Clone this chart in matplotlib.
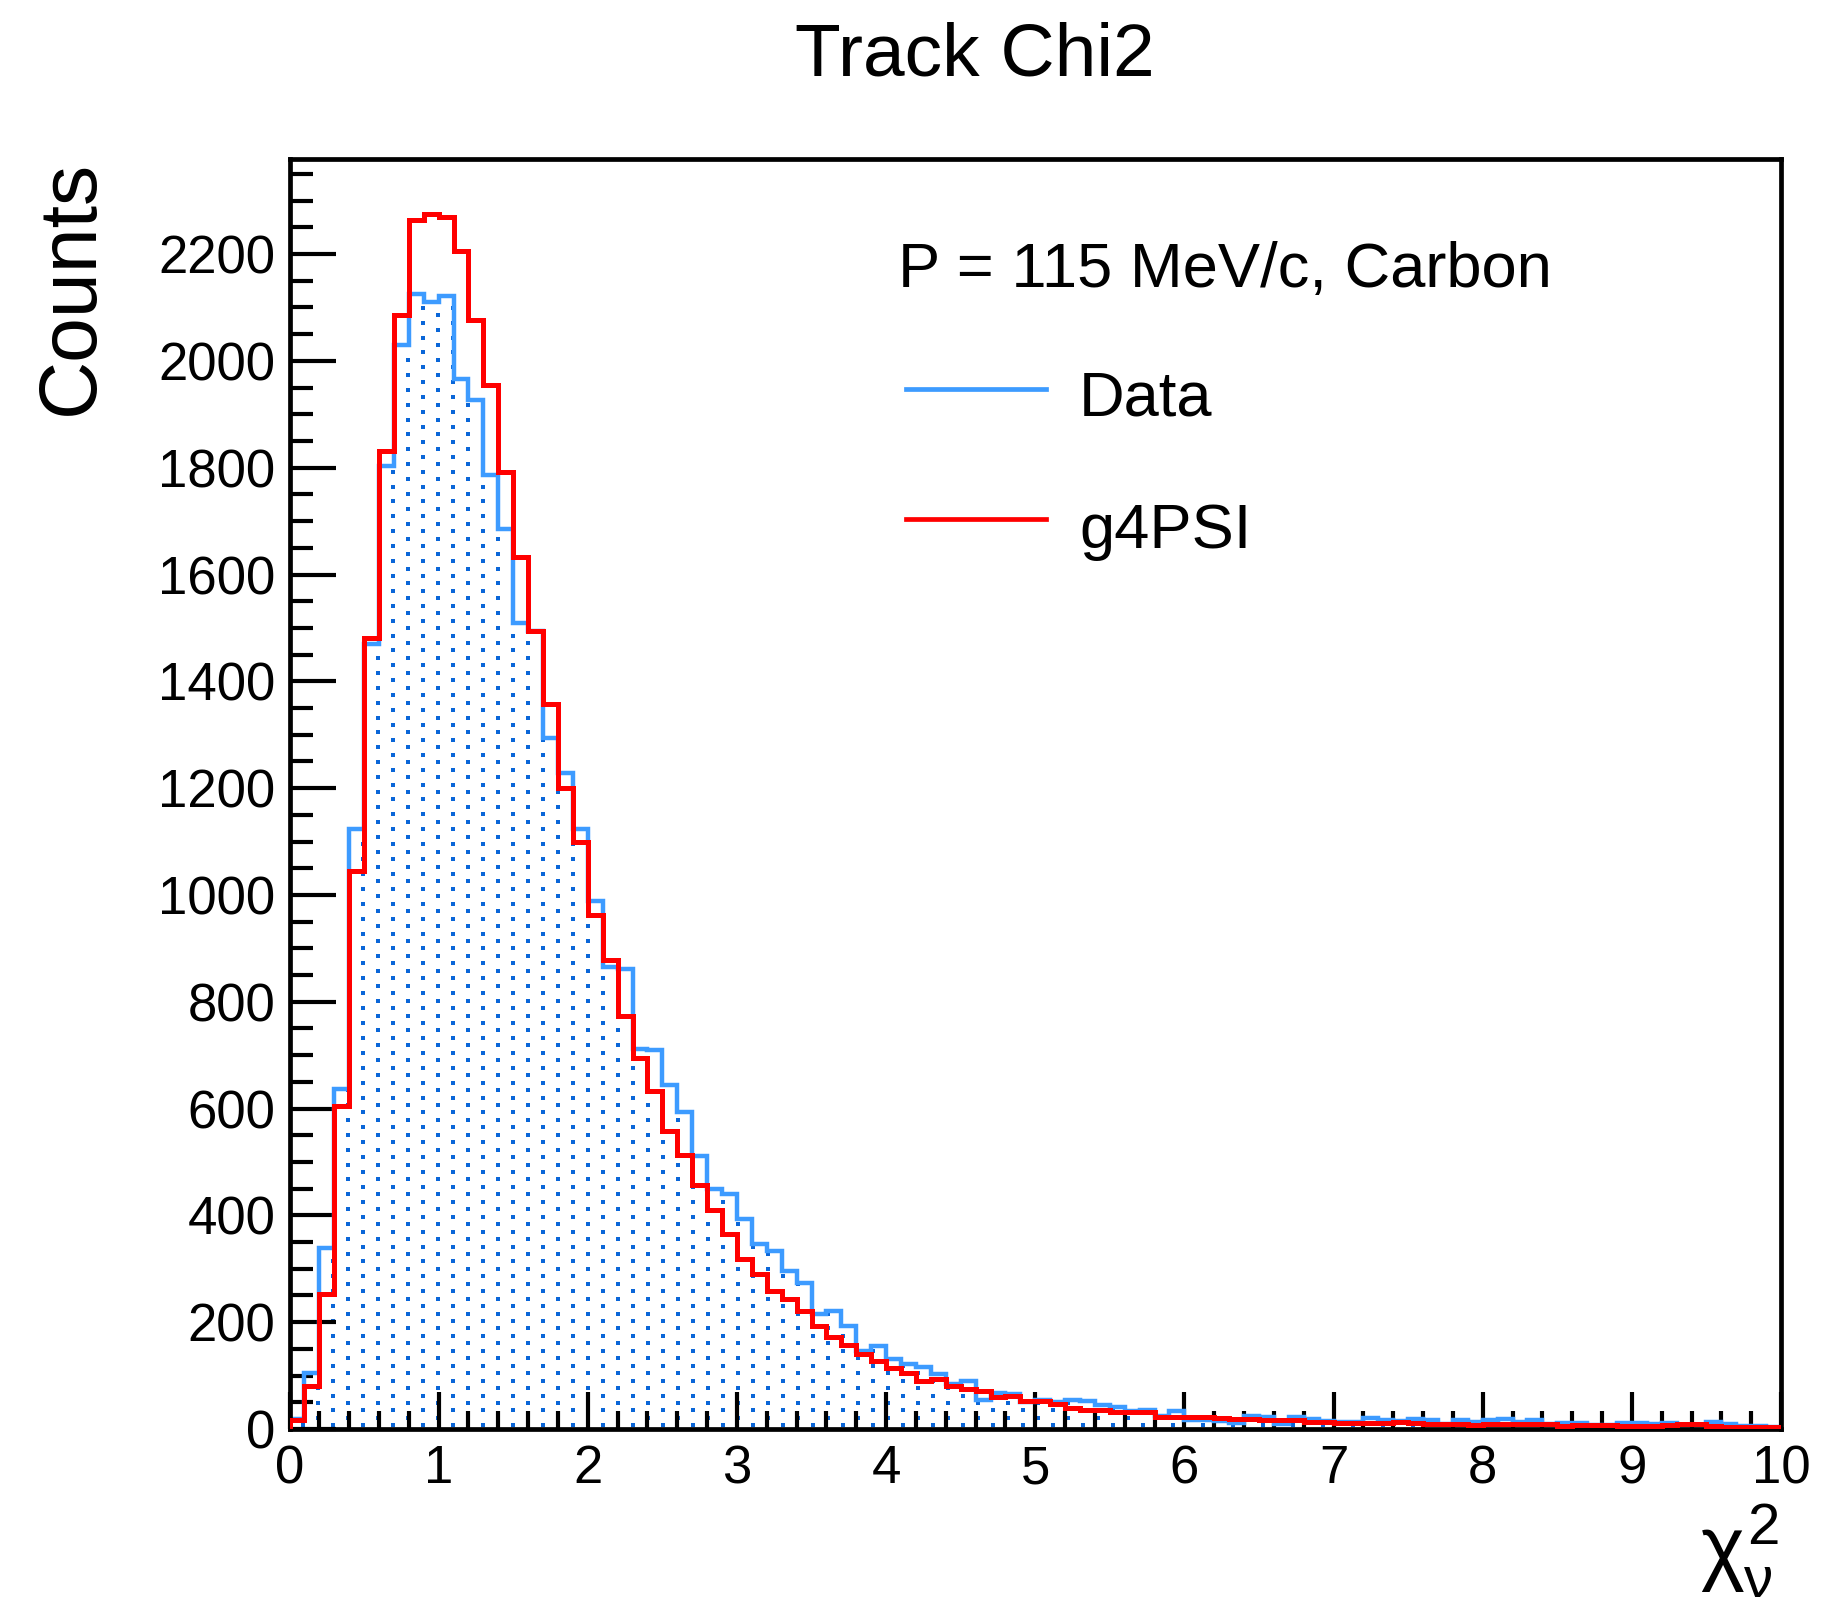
import numpy as np
import matplotlib
matplotlib.use("Agg")
import matplotlib.pyplot as plt
from matplotlib.lines import Line2D
from matplotlib.ticker import MultipleLocator

plt.rcParams["font.family"] = ["Liberation Sans", "DejaVu Sans"]
plt.rcParams["mathtext.fontset"] = "custom"
plt.rcParams["mathtext.rm"] = "Liberation Sans"
plt.rcParams["mathtext.it"] = "Liberation Sans"

# 100 bins of width 0.1 between 0 and 10
bin_edges = np.linspace(0.0, 10.0, 101)

data_counts = [
    18, 105, 338, 637, 1123, 1470, 1804, 2029, 2125, 2111,
    2122, 1966, 1926, 1787, 1686, 1510, 1495, 1294, 1229, 1124,
    988, 866, 862, 711, 710, 644, 594, 512, 450, 440,
    393, 346, 334, 296, 274, 215, 221, 193, 146, 156,
    131, 122, 117, 103, 84, 89, 55, 67, 66, 50,
    55, 51, 55, 52, 45, 42, 33, 36, 25, 34,
    16, 16, 15, 12, 25, 22, 10, 23, 19, 15,
    13, 14, 20, 16, 15, 19, 16, 10, 16, 14,
    16, 19, 13, 16, 10, 12, 12, 8, 7, 11,
    12, 9, 12, 8, 7, 14, 9, 5, 6, 4,
]

g4psi_counts = [
    17, 80, 253, 605, 1045, 1481, 1832, 2086, 2264, 2275,
    2270, 2206, 2077, 1954, 1791, 1633, 1495, 1358, 1200, 1099,
    963, 878, 773, 694, 633, 558, 513, 457, 410, 365,
    319, 290, 258, 244, 221, 193, 173, 158, 140, 128,
    114, 105, 89, 94, 80, 74, 71, 60, 62, 52,
    52, 47, 40, 36, 36, 32, 31, 31, 23, 22,
    23, 22, 20, 19, 19, 16, 16, 16, 14, 14,
    11, 11, 11, 11, 14, 11, 10, 9, 9, 8,
    9, 9, 10, 10, 9, 6, 8, 8, 8, 5,
    6, 5, 8, 9, 9, 6, 3, 3, 3, 3,
]

y_ticks = [0, 200, 400, 600, 800, 1000, 1200, 1400, 1600, 1800, 2000, 2200]
x_ticks = list(range(0, 11))

DATA_COLOR = "#3d9bff"
DOT_COLOR = "#0a66d8"
G4_COLOR = "#ff0000"

W, H = 1823, 1611
fig = plt.figure(figsize=(W / 100, H / 100), dpi=100)
ax = fig.add_axes([289.5 / W, 1 - 1429 / H, (1781 - 289.5) / W, (1429 - 159) / H])
ax.set_xlim(0, 10)
ax.set_ylim(0, 2378)

# invisible filled outline of the data histogram, used to clip the dot pattern
data_fill = ax.stairs(data_counts, bin_edges, baseline=0, fill=True,
                      facecolor="none", edgecolor="none")

# ROOT-like dotted fill pattern (staggered lattice in pixel space)
bb = ax.get_window_extent()
px, py = [], []
row = 0
yy = bb.y0 + 3.7
while yy < bb.y1:
    xx = bb.x0 + 13.8 + (row % 2) * 15
    while xx < bb.x1:
        px.append(xx)
        py.append(yy)
        xx += 30
    yy += 7.45
    row += 1
pts = ax.transData.inverted().transform(np.column_stack([px, py]))
dots = ax.scatter(pts[:, 0], pts[:, 1], s=5.0, marker="s", color=DOT_COLOR,
                  linewidths=0, zorder=1)
dots.set_clip_path(data_fill)

ax.stairs(data_counts, bin_edges, baseline=0, color=DATA_COLOR, linewidth=3.2, zorder=2)
ax.stairs(g4psi_counts, bin_edges, baseline=0, color=G4_COLOR, linewidth=3.6, zorder=3)

ax.set_xlim(0, 10)
ax.set_ylim(0, 2378)
ax.set_xticks(x_ticks)
ax.set_yticks(y_ticks)
ax.xaxis.set_minor_locator(MultipleLocator(0.2))
ax.yaxis.set_minor_locator(MultipleLocator(50))

for sp in ax.spines.values():
    sp.set_linewidth(3.4)
ax.tick_params(which="both", direction="in", top=False, right=False, width=3.0,
               labelsize=38)
ax.tick_params(axis="x", which="major", length=26.5, pad=11)
ax.tick_params(axis="x", which="minor", length=13)
ax.tick_params(axis="y", which="major", length=33, pad=10)
ax.tick_params(axis="y", which="minor", length=16.5)

fig.text(975 / W, 1 - 76 / H, "Track Chi2", fontsize=54, ha="center", va="baseline")
fig.text(110 / W, 1 - 160 / H, "Counts", fontsize=58, rotation=90, ha="right", va="top")
fig.text(1779 / W, 1 - 1576 / H, r"$\chi^{2}_{\nu}$", fontsize=60, ha="right", va="baseline")

# legend block
fig.text(898 / W, 1 - 287 / H, "P = 115 MeV/c, Carbon", fontsize=45.5, ha="left", va="baseline")
fig.add_artist(Line2D([906 / W, 1046 / W], [1 - 389 / H, 1 - 389 / H],
                      color=DATA_COLOR, linewidth=3.4, transform=fig.transFigure))
fig.add_artist(Line2D([906 / W, 1046 / W], [1 - 519 / H, 1 - 519 / H],
                      color=G4_COLOR, linewidth=3.4, transform=fig.transFigure))
fig.text(1079 / W, 1 - 415 / H, "Data", fontsize=45.5, ha="left", va="baseline")
fig.text(1079 / W, 1 - 548 / H, "g4PSI", fontsize=45.5, ha="left", va="baseline")

fig.savefig("out.png", dpi=100)
plt.close(fig)
